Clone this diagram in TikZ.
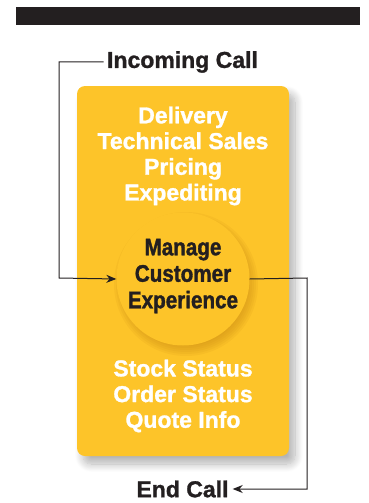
\documentclass[tikz,border=0pt]{standalone}
\usepackage{fontspec}
\setmainfont{Liberation Sans}[FakeBold=1.2]
\newfontfamily\condfont{Liberation Sans}[FakeStretch=0.86, FakeBold=1.4]
\usetikzlibrary{arrows.meta,shadows.blur}
\definecolor{callyellow}{RGB}{253,196,41}
\definecolor{callshade}{RGB}{205,140,20}
\definecolor{callink}{RGB}{35,31,32}

\begin{document}
\begin{tikzpicture}[x=1pt, y=-1pt,
  item/.style={text=white, font=\fontsize{23}{25.7}\selectfont\bfseries, align=center},
  calltext/.style={text=callink, font=\fontsize{23}{25}\selectfont\bfseries},
  callline/.style={draw=callink, line width=1pt},
  calltip/.style={-{Stealth[length=10pt, width=8pt]}}]

  \useasboundingbox (0,0) rectangle (369,503);

  %% top bar
  \fill[callink] (16,7) rectangle (360,25);

  \node[fill=callyellow, rounded corners=8pt, minimum width=212pt, minimum height=370pt,
    blur shadow={shadow xshift=6pt, shadow yshift=-8pt, shadow blur radius=8pt,
      shadow blur steps=12, shadow opacity=30}]
    (panel) at (183,271) {};

  %% soft shade under the circle
  \foreach \r in {72,70,...,60}
    \fill[callshade, opacity=0.12] (186,284) circle (\r pt);
  \node[circle, fill=callyellow, minimum size=133pt, inner sep=0pt] (hub) at (183,279) {};
  \node[text=callink, font=\condfont\fontsize{24}{26.5}\selectfont\bfseries, align=center]
    (hubtext) at (183,276) {Manage\\Customer\\Experience};

  \node[item] (topitems) at (183,156) {Delivery\\Technical Sales\\Pricing\\Expediting};
  \node[item] (botitems) at (183,396) {Stock Status\\Order Status\\Quote Info};

  \node[calltext] (incoming) at (182.5,62) {Incoming Call};
  \node[calltext, inner sep=4pt] (endcall) at (182.5,489) {End Call};

  %% call in / call out
  \coordinate (inbend) at (59,278);
  \draw[callline, calltip] (incoming.west) -| (inbend) -- (hub.west);
  \coordinate (outbend) at (307,278);
  \draw[callline, calltip] (hub.east) -- (outbend) |- (endcall.east);
\end{tikzpicture}
\end{document}
